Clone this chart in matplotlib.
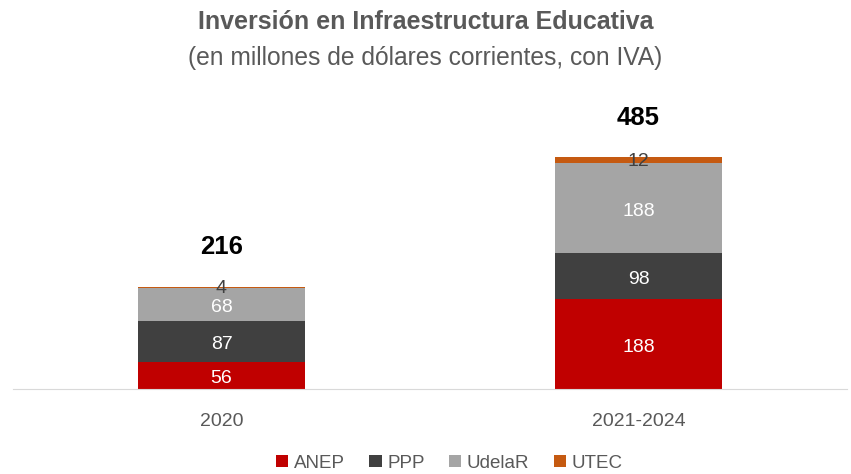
import numpy as np
import matplotlib.pyplot as plt

plt.rcParams['font.family'] = ['Liberation Sans', 'DejaVu Sans']

categories = ['2020', '2021-2024']
series = ['ANEP', 'PPP', 'UdelaR', 'UTEC']
anep = [56, 188]
ppp = [87, 98]
udelar = [68, 188]
utec = [4, 12]
totals = [216, 485]
colors = ['#C00000', '#404040', '#A5A5A5', '#C55A11']
label_colors = ['white', 'white', 'white', '#404040']


def main():
    fig = plt.figure(figsize=(8.51, 4.74), dpi=100)
    ax = fig.add_axes([13 / 851, 1 - 389 / 474, 834 / 851, 294 / 474])
    x = np.arange(len(categories))
    bottom = np.zeros(len(categories))
    data = [anep, ppp, udelar, utec]
    for name, vals, col, lcol in zip(series, data, colors, label_colors):
        bars = ax.bar(x, vals, 0.4, bottom=bottom, color=col, label=name)
        for b, v, bt in zip(bars, vals, bottom):
            if name == 'UTEC':
                y = bt + v / 2 - 2
            else:
                y = bt + v / 2 - 7
            ax.text(b.get_x() + b.get_width() / 2, y, str(v), ha='center', va='center',
                    color=lcol, fontsize=14)
        bottom += np.array(vals)
    for xi, t, top in zip(x, totals, bottom):
        ax.text(xi, top + 82, str(t), ha='center', va='center', fontsize=18.5,
                fontweight='bold', color='black')
    ax.set_xlim(-0.5, 1.5)
    ax.set_ylim(0, 617)
    ax.set_xticks(x)
    ax.set_xticklabels(categories, fontsize=14, color='#595959')
    ax.tick_params(axis='x', length=0, pad=17)
    ax.set_yticks([])
    for s in ['top', 'left', 'right']:
        ax.spines[s].set_visible(False)
    ax.spines['bottom'].set_color('#D9D9D9')
    fig.text(0.5, 1 - 22 / 474, 'Inversión en Infraestructura Educativa', ha='center',
             va='center', fontsize=18, fontweight='bold', color='#595959')
    fig.text(0.5, 1 - 58 / 474, '(en millones de dólares corrientes, con IVA)', ha='center',
             va='center', fontsize=17.7, color='#595959')
    fig.legend(loc='center', bbox_to_anchor=(0.528, 1 - 463 / 474), ncol=4, frameon=False,
               fontsize=13.5, handlelength=0.65, handleheight=0.65, handletextpad=0.3,
               columnspacing=1.3, labelcolor='#595959')
    fig.savefig('out.png', dpi=100)


if __name__ == '__main__':
    main()
